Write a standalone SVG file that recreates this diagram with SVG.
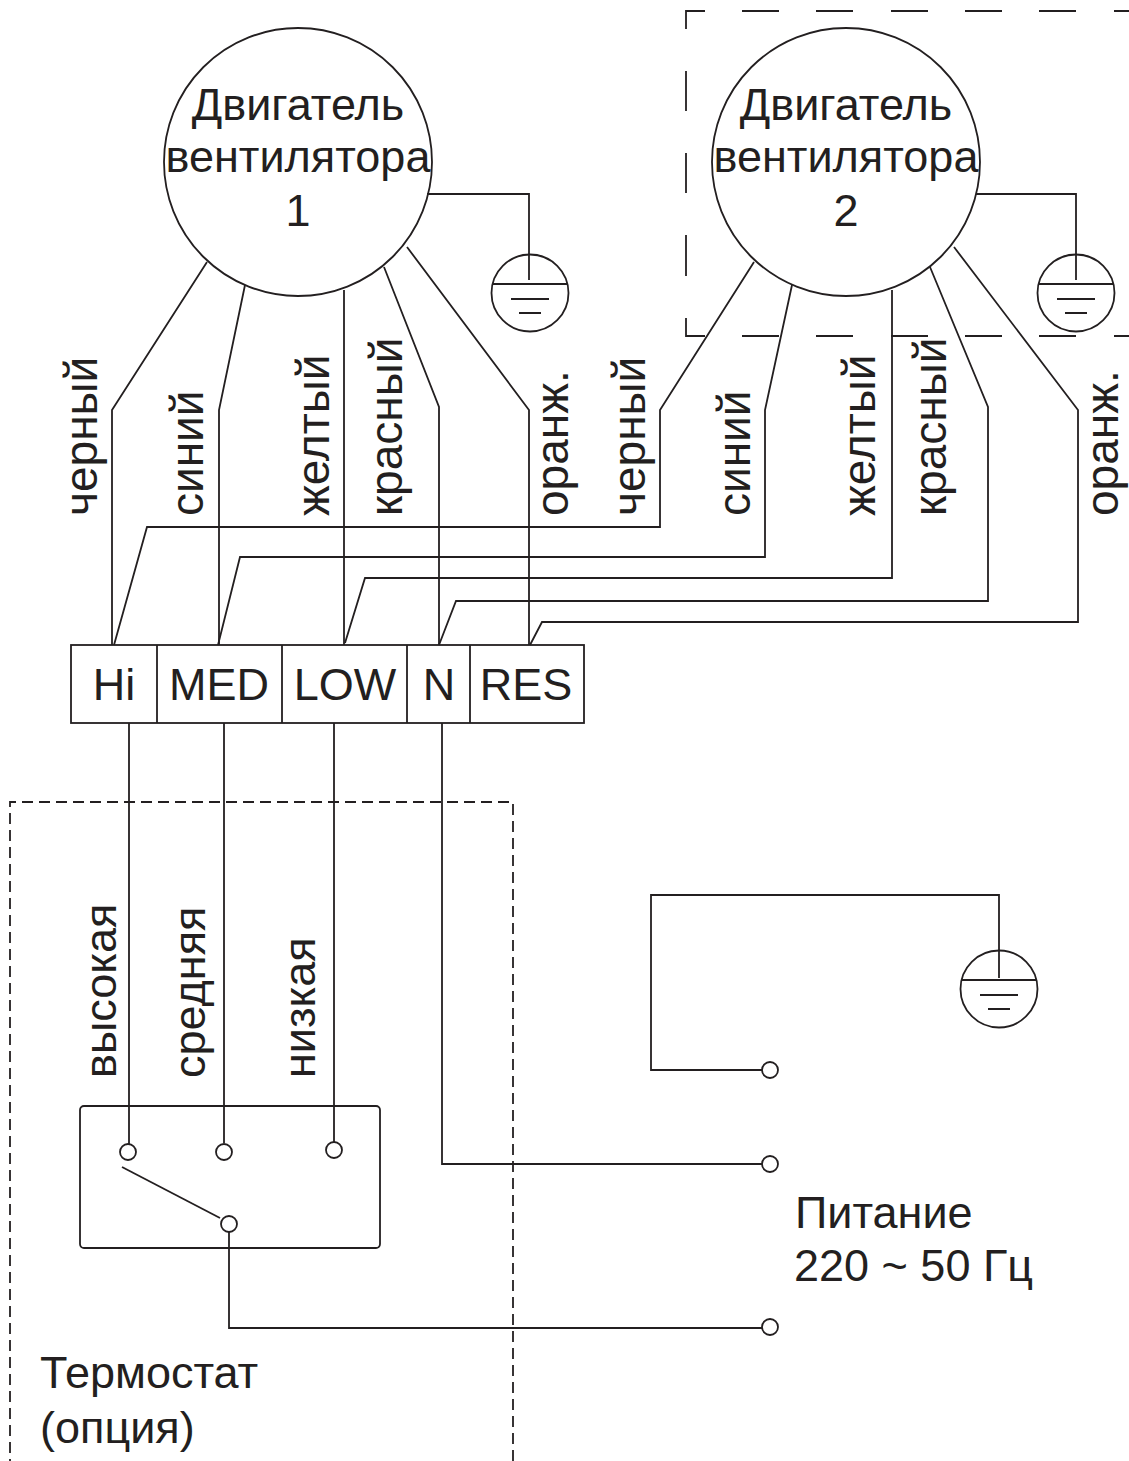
<svg xmlns="http://www.w3.org/2000/svg" width="1129" height="1461" viewBox="0 0 1129 1461">
<style>
.w{fill:none;stroke:#231f20;stroke-width:1.8;stroke-linejoin:miter}
.s{fill:#fff;stroke:#231f20;stroke-width:1.8}
text{font-family:"Liberation Sans",Arial,sans-serif;fill:#231f20}
.big{font-size:45px;text-anchor:middle}
.t{font-size:45px;text-anchor:middle}
.v{font-size:46px}
.h{font-size:45px}
.l{font-size:45px}
</style>
<defs>
<g id="gnd"><circle class="w" cx="0" cy="0" r="38.5"/><path class="w" d="M-38-9H38M-19 6H19M-11 20H11"/></g>
</defs>
<rect width="1129" height="1461" fill="#fff"/>
<g id="frames">
<path class="w" d="M705 11H686V29M686 71V111M686 153V193M686 235V276M686 318V336H705M742 11H779M816 11H853M891 11H928M965 11H1002M1039 11H1076M1114 11H1129M742 336H779M816 336H853M891 336H928M965 336H1002M1039 336H1076M1114 336H1129"/>
<path class="w" d="M513 1461V802H10V1461" stroke-dasharray="11 6"/>
</g>
<g id="connectors">
<path class="w" d="M207 262L112 410V645"/>
<path class="w" d="M245 285L219 410V645"/>
<path class="w" d="M344 290V645"/>
<path class="w" d="M384 267L439 407V645"/>
<path class="w" d="M407 247L529 410V645"/>
<path class="w" d="M754 262L660 410V527H147L114 645"/>
<path class="w" d="M792 285L765 410V557H240L218 645"/>
<path class="w" d="M892 290V578H365L345 643"/>
<path class="w" d="M930 267L988 407V601H456L439 645"/>
<path class="w" d="M954 247L1078 410V622H542L530 645"/>
<path class="w" d="M427 194H529V280"/>
<path class="w" d="M976 194H1076V280"/>
<path class="w" d="M129 723V1144M224 723V1143M334 723V1142"/>
<path class="w" d="M442 723V1164H762"/>
<path class="w" d="M229 1232V1328H762"/>
<path class="w" d="M999 978V895H651V1070H762"/>
<path class="w" d="M122 1167L220 1218"/>
</g>
<g id="motor1"><circle class="w" cx="298" cy="162" r="134"/>
<text class="big" x="298" y="120">Двигатель</text><text class="big" x="298" y="172">вентилятора</text><text class="big" x="298" y="226">1</text></g>
<g id="motor2"><circle class="w" cx="846" cy="162" r="134"/>
<text class="big" x="846" y="120">Двигатель</text><text class="big" x="846" y="172">вентилятора</text><text class="big" x="846" y="226">2</text></g>
<g id="ground1"><use href="#gnd" x="530" y="293"/></g>
<g id="ground2"><use href="#gnd" x="1076" y="293"/></g>
<g id="ground3"><use href="#gnd" x="999" y="989"/></g>
<g id="wire-labels">
<text class="v" transform="translate(97 516) rotate(-90)">черный</text>
<text class="v" transform="translate(203 516) rotate(-90)">синий</text>
<text class="v" transform="translate(329 516) rotate(-90)">желтый</text>
<text class="v" transform="translate(402 516) rotate(-90)">красный</text>
<text class="v" transform="translate(568 516) rotate(-90)">оранж.</text>
<text class="v" transform="translate(645 516) rotate(-90)">черный</text>
<text class="v" transform="translate(750 516) rotate(-90)">синий</text>
<text class="v" transform="translate(875 516) rotate(-90)">желтый</text>
<text class="v" transform="translate(946 516) rotate(-90)">красный</text>
<text class="v" transform="translate(1118 516) rotate(-90)">оранж.</text>
<text class="h" transform="translate(116 1078) rotate(-90)">высокая</text>
<text class="h" transform="translate(205 1078) rotate(-90)">средняя</text>
<text class="h" transform="translate(315 1078) rotate(-90)">низкая</text>
</g>
<g id="terminal-block">
<rect class="w" x="71" y="645" width="513" height="78"/>
<path class="w" d="M157 645V723M282 645V723M407 645V723M470 645V723"/>
<text class="t" x="114" y="700">Hi</text><text class="t" x="219" y="700">MED</text><text class="t" x="345" y="700">LOW</text><text class="t" x="439" y="700">N</text><text class="t" x="526" y="700">RES</text>
</g>
<g id="thermostat">
<rect class="w" x="80" y="1106" width="300" height="142" rx="4"/>
<circle class="s" cx="128" cy="1152" r="8"/><circle class="s" cx="224" cy="1152" r="8"/><circle class="s" cx="334" cy="1150" r="8"/><circle class="s" cx="229" cy="1224" r="8"/>
<text class="l" x="40" y="1388">Термостат</text><text class="l" x="40" y="1443">(опция)</text>
</g>
<g id="power">
<circle class="s" cx="770" cy="1070" r="8"/><circle class="s" cx="770" cy="1164" r="8"/><circle class="s" cx="770" cy="1327" r="8"/>
<text class="l" x="795" y="1228">Питание</text><text class="l" x="794" y="1281">220 ~ 50 Гц</text>
</g>
</svg>
